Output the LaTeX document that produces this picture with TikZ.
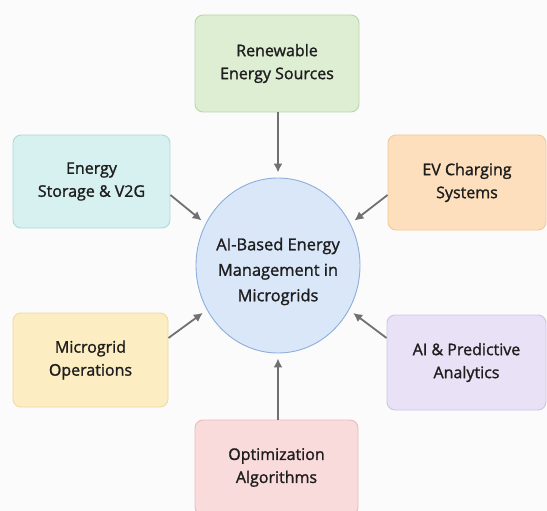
\documentclass[tikz,border=0pt]{standalone}
\usepackage{fontspec}
\setmainfont{Open Sans}
\newfontfamily\labelfont{Open Sans}[FakeBold=1.4]
\usetikzlibrary{shapes.geometric,arrows.meta}

% Pastel palette
\definecolor{bggray}{HTML}{FBFBFB}
\definecolor{greenfill}{HTML}{DDEED3}
\definecolor{greenline}{HTML}{B9D6A8}
\definecolor{cyanfill}{HTML}{D7F0F0}
\definecolor{cyanline}{HTML}{AEDADA}
\definecolor{peachfill}{HTML}{FDDFBD}
\definecolor{peachline}{HTML}{F2C998}
\definecolor{yellowfill}{HTML}{FCEDC3}
\definecolor{yellowline}{HTML}{F0D9A2}
\definecolor{lilacfill}{HTML}{E9E1F5}
\definecolor{lilacline}{HTML}{D0C4E6}
\definecolor{pinkfill}{HTML}{FADBDC}
\definecolor{pinkline}{HTML}{EBB8BB}
\definecolor{hubfill}{HTML}{D9E7F8}
\definecolor{hubline}{HTML}{8FAEDA}
\definecolor{arrowgray}{HTML}{707070}
\definecolor{textdark}{HTML}{1E1E1E}

\tikzset{
  topic/.style={draw, line width=0.9pt, rounded corners=8pt,
    minimum width=#1, align=center, text=textdark,
    font=\labelfont\fontsize{16}{23}\selectfont},
  hub/.style={draw=hubline, fill=hubfill, line width=0.9pt, ellipse,
    minimum width=164pt, minimum height=175pt, inner sep=0pt},
  hubtext/.style={align=center, text=textdark, inner sep=0pt,
    font=\labelfont\fontsize{16.4}{25.5}\selectfont},
  feed/.style={draw=arrowgray, line width=1.8pt, shorten >=5pt,
    -{Latex[length=9pt,width=9pt]}},
}

\begin{document}
\begin{tikzpicture}[x=1pt,y=-1pt]
  \useasboundingbox (0,0) rectangle (547,511);
  \fill[bggray] (0,0) rectangle (547,511);
  \clip (0,0) rectangle (547,511);

  % central hub and its label, set a little below the centre
  \node[hub] (c) at (278,265.5) {};
  \node[hubtext] (ctext) at ([yshift=-6pt]c.center) {AI-Based Energy\\Management in\\Microgrids};

  % surrounding topics
  \node[topic=164pt, minimum height=97pt, fill=greenfill, draw=greenline]
    (ren) at (277,63.5) {Renewable\\Energy Sources};
  \node[topic=157pt, minimum height=93pt, fill=cyanfill, draw=cyanline]
    (sto) at (91.5,181.5) {Energy\\Storage \& V2G};
  \node[topic=158pt, minimum height=95pt, fill=peachfill, draw=peachline]
    (ev) at (467,182.5) {EV Charging\\Systems};
  \node[topic=155pt, minimum height=94pt, fill=yellowfill, draw=yellowline]
    (ops) at (90.5,360) {Microgrid\\Operations};
  \node[topic=159pt, minimum height=95pt, fill=lilacfill, draw=lilacline]
    (ai) at (466.5,362.5) {AI \& Predictive\\Analytics};
  \node[topic=163pt, minimum height=95pt, fill=pinkfill, draw=pinkline]
    (opt) at (276.5,467.5) {Optimization\\Algorithms};

  % connectors into the hub
  \draw[feed] (c.north |- ren.south) -- (c.north);
  \draw[feed] (c.south |- opt.north) -- (c.south);
  \draw[feed] ([yshift=-13.5pt]sto.east) -- (c.150);
  \draw[feed] ([yshift=-12.5pt]ev.west) -- (c.30);
  \draw[feed] ([yshift=22pt]ops.east) -- (c.212);
  \draw[feed] ([yshift=24.5pt]ai.west) -- (c.-32);
\end{tikzpicture}
\end{document}
